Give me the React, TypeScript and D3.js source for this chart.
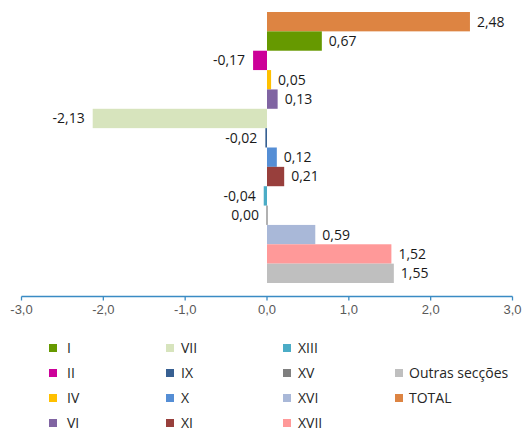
import React from "react";
import * as d3 from "d3";

const categories = ["TOTAL", "I", "II", "IV", "VI", "VII", "IX", "X", "XI", "XIII", "XV", "XVI", "XVII", "Outras secções"];
const values = [2.48, 0.67, -0.17, 0.05, 0.13, -2.13, -0.02, 0.12, 0.21, -0.04, 0.0, 0.59, 1.52, 1.55];
const colors = ["#DD8442", "#669900", "#CC0099", "#FFC000", "#8064A2", "#D7E4BD", "#376092", "#558ED5", "#983F3C", "#4BACC6", "#7F7F7F", "#A9B8D8", "#FF9999", "#BFBFBF"];
const xTicks = [-3, -2, -1, 0, 1, 2, 3];
const legendColumns = [
  ["I", "II", "IV", "VI"],
  ["VII", "IX", "X", "XI"],
  ["XIII", "XV", "XVI", "XVII"],
  ["", "Outras secções", "TOTAL"],
];

const W = 527;
const H = 432;

const fmt = (v: number) => d3.format(".2f")(v).replace("−", "-").replace(".", ",");
const fmtTick = (v: number) => d3.format(".1f")(v).replace("−", "-").replace(".", ",");

export default function App() {
  const x = d3.scaleLinear().domain([-3, 3]).range([21.5, 512.5]);
  const y = d3.scaleBand<string>().domain(categories).range([12, 283]).padding(0);
  const axisY = 296.5;
  const axisColor = "#3A8BC4";

  const colorOf = (c: string) => colors[categories.indexOf(c)];
  const colX = [49, 166, 283, 395];
  const textDx = [18, 15, 15, 14];
  const rowY = [348, 373, 398, 423];

  return (
    <svg width={W} height={H} style={{ position: "absolute", left: 0, top: 0, background: "#fff" }}>
      <rect x={0} y={0} width={W} height={H} fill="#fff" />
      {categories.map((c, i) => {
        const v = values[i];
        const x0 = x(0);
        const x1 = x(v);
        const left = Math.min(x0, x1);
        const w = Math.max(Math.abs(x1 - x0), 1.2);
        const by = y(c)!;
        const bh = y.bandwidth();
        const pos = v > 0;
        return (
          <g key={c}>
            <rect x={v === 0 ? x0 - 0.6 : left} y={by} width={w} height={bh} fill={colors[i]} />
            <text
              x={pos ? x1 + 7 : Math.min(x1, x0) - 8}
              y={by + bh / 2}
              dy="0.35em"
              textAnchor={pos ? "start" : "end"}
              fontFamily="'Open Sans', 'Noto Sans', sans-serif"
              fontSize={14}
              fill="#1a1a1a"
            >
              {fmt(v)}
            </text>
          </g>
        );
      })}
      <g>
        <line x1={x(-3)} x2={x(3)} y1={axisY} y2={axisY} stroke={axisColor} strokeWidth={1.3} />
        {xTicks.map((t) => (
          <g key={t} transform={`translate(${x(t)},0)`}>
            <line y1={axisY} y2={axisY + 4} stroke={axisColor} strokeWidth={1.3} />
            <text
              y={314}
              textAnchor="middle"
              fontFamily="'Liberation Sans', Arial, sans-serif"
              fontSize={13}
              fill="#595959"
            >
              {fmtTick(t)}
            </text>
          </g>
        ))}
      </g>
      {legendColumns.map((col, ci) =>
        col.map((name, ri) =>
          name ? (
            <g key={name}>
              <rect x={colX[ci]} y={rowY[ri] - 4} width={8} height={8} fill={colorOf(name)} />
              <text
                x={colX[ci] + textDx[ci]}
                y={rowY[ri]}
                dy="0.35em"
                fontFamily="'Open Sans', 'Noto Sans', sans-serif"
                fontSize={14}
                fill="#262626"
              >
                {name}
              </text>
            </g>
          ) : null
        )
      )}
    </svg>
  );
}
